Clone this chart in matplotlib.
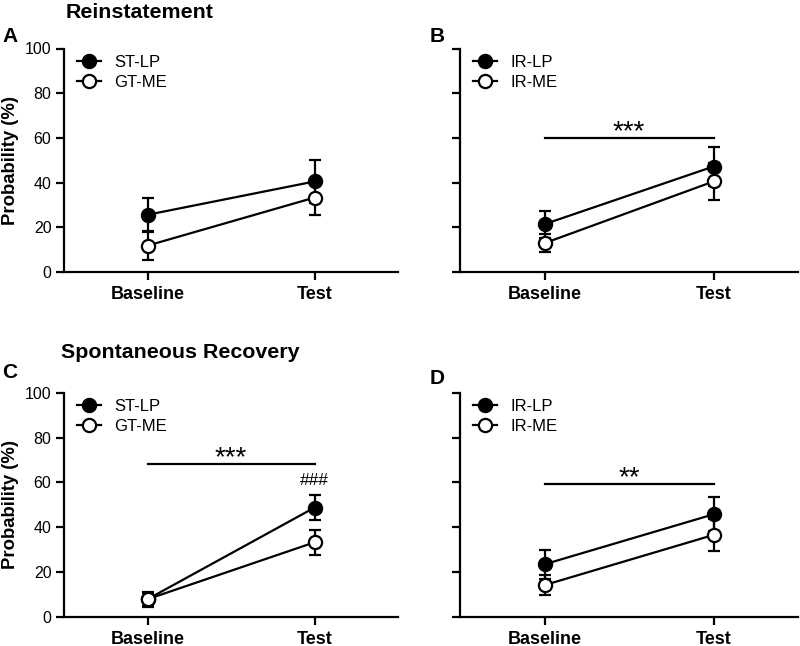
import matplotlib
matplotlib.use("Agg")
import matplotlib.pyplot as plt
from matplotlib.lines import Line2D

plt.rcParams['font.family'] = ['Liberation Sans', 'DejaVu Sans']

conditions = ["Baseline", "Test"]
y_ticks = [0, 20, 40, 60, 80, 100]

# Panel A - Reinstatement
a_labels = ["ST-LP", "GT-ME"]
a_mean = [[25.6, 40.5], [11.8, 33.3]]
a_err = [[7.6, 9.6], [6.6, 7.7]]

# Panel B
b_labels = ["IR-LP", "IR-ME"]
b_mean = [[21.4, 47.2], [12.9, 40.5]]
b_err = [[6.1, 8.9], [4.0, 8.2]]

# Panel C - Spontaneous recovery
c_labels = ["ST-LP", "GT-ME"]
c_mean = [[7.8, 48.7], [7.8, 33.2]]
c_err = [[3.4, 5.7], [3.0, 5.5]]

# Panel D
d_labels = ["IR-LP", "IR-ME"]
d_mean = [[23.4, 45.7], [14.1, 36.5]]
d_err = [[6.6, 7.6], [4.4, 7.0]]

W, H = 800, 646
fig = plt.figure(figsize=(8, 6.46), dpi=100)


def add_ax(left, top, right, bottom):
    return fig.add_axes([left / W, 1 - bottom / H, (right - left) / W, (bottom - top) / H])


def draw(ax, labels, means, errs, ylabels, sig=None, hashes=None):
    xs = [0, 1]
    fills = ['black', 'white']
    for i in range(2):
        ax.errorbar(xs, means[i], yerr=errs[i], color='black', lw=1.6,
                    capsize=4.5, capthick=1.6, elinewidth=1.6, fmt='o',
                    ms=9.5, mfc=fills[i], mec='black', mew=1.6,
                    zorder=3 + i)
    for i in range(2):
        ax.plot(xs, means[i], color='black', lw=1.6, zorder=2)
    ax.set_xlim(-0.5, 1.5)
    ax.set_ylim(0, 100)
    ax.set_yticks(y_ticks)
    ax.set_xticks(xs)
    ax.set_xticklabels(conditions, fontsize=13, fontweight='bold')
    if ylabels:
        ax.set_yticklabels([str(t) for t in y_ticks], fontsize=11.5)
        ax.set_ylabel("Probability (%)", fontsize=13.3, fontweight='bold', labelpad=4)
    else:
        ax.set_yticklabels([])
    for s in ['top', 'right']:
        ax.spines[s].set_visible(False)
    for s in ['left', 'bottom']:
        ax.spines[s].set_linewidth(1.6)
    ax.tick_params(direction='out', width=1.6, length=6, pad=3)
    ax.tick_params(axis='x', pad=4)
    handles = [Line2D([], [], color='black', lw=1.6, marker='o', ms=9.5,
                      mfc=fills[i], mec='black', mew=1.6) for i in range(2)]
    ax.legend(handles, labels, loc='upper left', bbox_to_anchor=(0.0, 1.03), frameon=False,
              fontsize=12, handlelength=1.4, handletextpad=0.8,
              labelspacing=0.3, borderaxespad=0.4)
    if sig is not None:
        y, txt = sig
        ax.plot([0, 1], [y, y], color='black', lw=1.6, clip_on=False)
        ax.text(0.5, y - 0.4, txt, ha='center', va='baseline', fontsize=20)
    if hashes is not None:
        ax.text(1, hashes, "###", ha='center', va='center', fontsize=12.5)


axA = add_ax(64, 48.5, 398, 272)
axB = add_ax(460, 48.5, 798, 272)
axC = add_ax(64, 392.7, 398, 616.7)
axD = add_ax(460, 392.7, 798, 616.7)

draw(axA, a_labels, a_mean, a_err, True)
draw(axB, b_labels, b_mean, b_err, False, sig=(59.8, "***"))
draw(axC, c_labels, c_mean, c_err, True, sig=(68.2, "***"), hashes=61.0)
draw(axD, d_labels, d_mean, d_err, False, sig=(59.1, "**"))

fig.text(66 / W, 1 - 13 / H, "Reinstatement", fontsize=15.4, fontweight='bold', va='center', ha='left')
fig.text(61 / W, 1 - 352 / H, "Spontaneous Recovery", fontsize=15.4, fontweight='bold', va='center', ha='left')
for lab, x, y in [("A", 2, 36), ("B", 430, 36), ("C", 2, 373), ("D", 430, 378)]:
    fig.text(x / W, 1 - y / H, lab, fontsize=15, fontweight='bold', va='center', ha='left')

fig.savefig("out.png", dpi=100)
